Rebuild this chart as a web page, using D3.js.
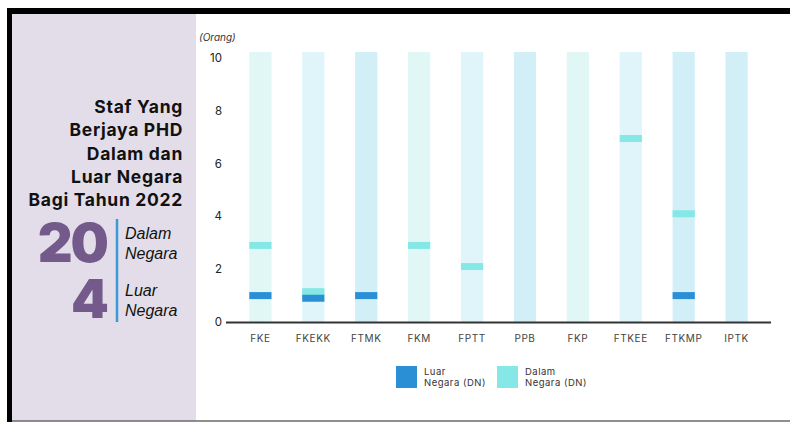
<!DOCTYPE html>
<meta charset="utf-8">
<style>
body { margin: 0; background: #fff; }
svg { display: block; }
text { font-family: Inter, "Noto Sans", sans-serif; }
</style>
<body>
<script src="https://d3js.org/d3.v7.min.js"></script>
<script>

// data
var faculties = ["FKE", "FKEKK", "FTMK", "FKM", "FPTT", "PPB", "FKP", "FTKEE", "FTKMP", "IPTK"];
var dalamNegara = [2.9, 1.15, null, 2.9, 2.1, null, null, 6.95, 4.1, null];
var luarNegara = [1.0, 0.9, 1.0, null, null, null, null, null, 1.0, null];
var yTicks = [0, 2, 4, 6, 8, 10];
var titleLines = ["Staf Yang", "Berjaya PHD", "Dalam dan", "Luar Negara", "Bagi Tahun 2022"];
var totals = [{n: "20", l: ["Dalam", "Negara"]}, {n: "4", l: ["Luar", "Negara"]}];
var legendItems = [{l: ["Luar", "Negara (DN)"], c: "#2b8fd6"}, {l: ["Dalam", "Negara (DN)"], c: "#86e8e6"}];

var width = 790, height = 422;
var bgColors = ["#e0f7f6", "#e0f5fa", "#d2eff8"];

var svg = d3.select("body").append("svg")
    .attr("width", width)
    .attr("height", height);

// frame
svg.append("rect").attr("x", 7).attr("y", 8).attr("width", width - 7).attr("height", 6).attr("fill", "#000");
svg.append("rect").attr("x", 7).attr("y", 8).attr("width", 5).attr("height", height - 8).attr("fill", "#000");
svg.append("rect").attr("x", 12).attr("y", 14).attr("width", 184).attr("height", 407).attr("fill", "#e2dde8");
svg.append("line").attr("x1", 12).attr("x2", width).attr("y1", 421).attr("y2", 421)
    .attr("stroke", "#6a6a6a").attr("stroke-width", 1.5);

// left panel
svg.selectAll(".title").data(titleLines).enter().append("text")
    .attr("class", "title")
    .attr("x", 183)
    .attr("y", function(d, i) { return 113 + i * 23.3; })
    .attr("text-anchor", "end")
    .style("font-size", "17.5px")
    .style("font-weight", 700)
    .style("letter-spacing", "0.7px")
    .attr("fill", "#111")
    .text(function(d) { return d; });

totals.forEach(function(t, i) {
  svg.append("text")
    .attr("x", 107).attr("y", 262 + i * 56)
    .attr("text-anchor", "end")
    .style("font-size", "54px")
    .style("font-weight", 900)
    .style("letter-spacing", "-2px")
    .attr("fill", "#735a8a")
    .text(t.n);
  t.l.forEach(function(s, j) {
    svg.append("text")
      .attr("x", 125).attr("y", 239 + i * 57 + j * 20)
      .style("font-family", "'Liberation Sans', Arial, sans-serif")
      .style("font-size", "16px")
      .style("font-style", "italic")
      .attr("fill", "#111")
      .text(s);
  });
});
svg.append("line").attr("x1", 117).attr("x2", 117).attr("y1", 219).attr("y2", 322)
    .attr("stroke", "#3a9ad9").attr("stroke-width", 2.5);

// chart
var x = d3.scaleBand().domain(faculties).range([226, 771]).paddingInner(0.58).paddingOuter(0.44);
var y = d3.scaleLinear().domain([0, 10]).range([322, 58]);

svg.append("text").attr("x", 199).attr("y", 41)
    .style("font-size", "10px").style("font-style", "italic").attr("fill", "#333")
    .text("(Orang)");

svg.selectAll(".bg").data(faculties).enter().append("rect")
    .attr("class", "bg")
    .attr("x", function(d) { return x(d); })
    .attr("width", x.bandwidth())
    .attr("y", y(10) - 6)
    .attr("height", y(0) - y(10) + 6)
    .attr("fill", function(d, i) { return i == 9 ? bgColors[2] : bgColors[i % 3]; });

function markers(vals, color) {
  svg.append("g").selectAll("rect").data(vals.map(function(v, i) { return {f: faculties[i], v: v}; })
      .filter(function(d) { return d.v != null; }))
    .enter().append("rect")
      .attr("x", function(d) { return x(d.f); })
      .attr("width", x.bandwidth())
      .attr("y", function(d) { return y(d.v) - 3.5; })
      .attr("height", 7)
      .attr("fill", color);
}
markers(dalamNegara, "#86e8e6");
markers(luarNegara, "#2b8fd6");

svg.selectAll(".ytick").data(yTicks).enter().append("text")
    .attr("class", "ytick")
    .attr("x", 222).attr("y", function(d) { return y(d) + 4; })
    .attr("text-anchor", "end")
    .style("font-size", "11.5px").attr("fill", "#222")
    .text(function(d) { return d; });

svg.append("line").attr("x1", 226).attr("x2", 771).attr("y1", 322.5).attr("y2", 322.5)
    .attr("stroke", "#333").attr("stroke-width", 2);

svg.selectAll(".xlab").data(faculties).enter().append("text")
    .attr("class", "xlab")
    .attr("x", function(d) { return x(d) + x.bandwidth() / 2; })
    .attr("y", 342)
    .attr("text-anchor", "middle")
    .style("font-size", "10px").style("letter-spacing", "0.6px").attr("fill", "#444")
    .text(function(d) { return d; });

// legend
legendItems.forEach(function(d, i) {
  var lx = 396 + i * 101;
  svg.append("rect").attr("x", lx).attr("y", 366).attr("width", 21).attr("height", 22).attr("fill", d.c);
  d.l.forEach(function(s, j) {
    svg.append("text").attr("x", lx + 28).attr("y", 375 + j * 11)
      .style("font-size", "9.5px").style("letter-spacing", "0.5px").attr("fill", "#333")
      .text(s);
  });
});
</script>
</body>
